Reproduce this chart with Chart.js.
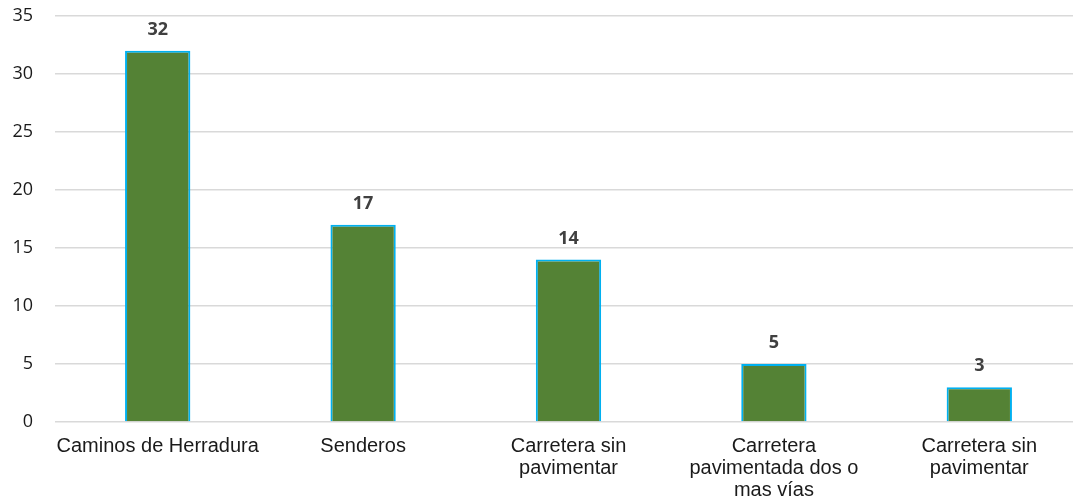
<!DOCTYPE html>
<html><head><meta charset="utf-8">
<script src="https://cdn.jsdelivr.net/npm/chart.js@4"></script>
<style>html,body{margin:0;padding:0;background:#fff;overflow:hidden}#w{width:1082px;height:502px}</style>
</head><body><div id="w"><canvas id="c"></canvas></div>
<script>
const categories = [
  "Caminos de Herradura",
  "Senderos",
  ["Carretera sin", "pavimentar"],
  ["Carretera", "pavimentada dos o", "mas vías"],
  ["Carretera sin", "pavimentar"]
];
const values = [32, 17, 14, 5, 3];
const yTicks = [0, 5, 10, 15, 20, 25, 30, 35];

const labelPlugin = {
  id: 'vals',
  afterDatasetsDraw(chart) {
    const ctx = chart.ctx;
    const meta = chart.getDatasetMeta(0);
    ctx.save();
    ctx.font = 'bold 18px "Open Sans", sans-serif';
    ctx.fillStyle = '#404040';
    ctx.textAlign = 'center';
    ctx.textBaseline = 'middle';
    meta.data.forEach((bar, i) => {
      ctx.fillText(String(values[i]), bar.x, bar.y - 21);
    });
    ctx.restore();
  }
};

new Chart(document.getElementById('c'), {
  type: 'bar',
  data: {
    labels: categories,
    datasets: [{
      data: values,
      backgroundColor: '#548235',
      borderColor: '#00B0F0',
      borderWidth: 2,
      categoryPercentage: 1,
      barPercentage: 0.318
    }]
  },
  options: {
    responsive: true,
    maintainAspectRatio: false,
    animation: false,
    layout: { padding: { top: 16, right: 0, left: 0, bottom: 0 } },
    plugins: { legend: { display: false }, tooltip: { enabled: false } },
    scales: {
      x: {
        grid: { display: false },
        border: { display: false },
        ticks: {
          color: '#1a1a1a',
          font: { family: '"Liberation Sans", Arial, sans-serif', size: 20, lineHeight: 1.1 },
          maxRotation: 0, autoSkip: false, padding: 5
        },
        afterFit(s) { s.height = 80; s.paddingLeft = 0; s.paddingRight = 0; }
      },
      y: {
        min: 0, max: 35,
        afterBuildTicks(s) { s.ticks = yTicks.map(v => ({ value: v })); },
        grid: { color: '#d9d9d9', lineWidth: 1.5, drawTicks: false },
        border: { display: false },
        ticks: {
          color: '#1a1a1a',
          font: { family: '"Open Sans", sans-serif', size: 18 },
          padding: 22
        },
        afterFit(s) { s.width = 55; s.paddingTop = 0; s.paddingBottom = 0; }
      }
    }
  },
  plugins: [labelPlugin]
});
</script></body></html>
